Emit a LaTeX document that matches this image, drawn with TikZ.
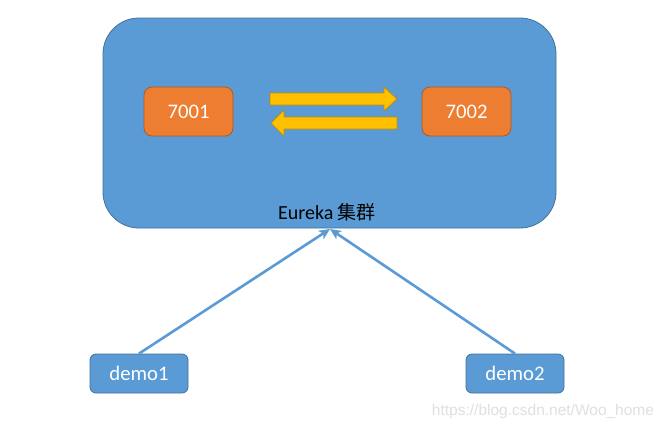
\documentclass[tikz,border=0pt]{standalone}
\usepackage{fontspec}
\setmainfont{Carlito}
\newfontfamily\cjkfont{Noto Sans CJK SC}
\newfontfamily\wmfont{Liberation Sans}
\usetikzlibrary{arrows.meta}
\definecolor{clusterblue}{HTML}{5B9BD5}
\definecolor{clusterborder}{HTML}{41719C}
\definecolor{nodeorange}{HTML}{ED7D31}
\definecolor{orangeborder}{HTML}{AE5A21}
\definecolor{arrowyellow}{HTML}{FFC000}
\definecolor{yellowborder}{HTML}{BC8C00}
\tikzset{
  cluster/.style={draw=clusterborder, fill=clusterblue, rounded corners=36pt, line width=0.8pt},
  orangebox/.style={draw=orangeborder, fill=nodeorange, rounded corners=8pt, minimum width=89pt, minimum height=49pt, text=white, font=\fontsize{20.7}{24}\selectfont, inner sep=0pt, line width=0.8pt},
  demobox/.style={draw=clusterborder, fill=clusterblue, rounded corners=6pt, minimum width=98pt, minimum height=39pt, text=white, font=\fontsize{20.7}{24}\selectfont, inner sep=0pt, line width=0.8pt},
  fatarrow/.style={draw=yellowborder, fill=arrowyellow, line width=0.7pt, line join=miter},
  link/.style={draw=clusterblue, line width=2.6pt, -{Stealth[length=11pt, width=10pt, inset=3pt]}}
}
\begin{document}
\begin{tikzpicture}[x=1pt, y=-1pt]
\useasboundingbox (0,0) rectangle (666,429);
\fill[white] (0,0) rectangle (666,429);
\draw[cluster] (103,18) rectangle (556,228);
\node[orangebox] (n7001) at (188.5,111.5) {7001};
\node[orangebox] (n7002) at (466.5,111.5) {7002};
\draw[fatarrow] (270,93) -- (384,93) -- (384,87) -- (397,99) -- (384,111) -- (384,105) -- (270,105) -- cycle;
\draw[fatarrow] (397,117) -- (284,117) -- (284,110) -- (271,123) -- (284,136) -- (284,129) -- (397,129) -- cycle;
\node[font=\fontsize{20}{24}\selectfont, inner sep=0pt] (label) at (327,212) {Eureka {\cjkfont\fontsize{19}{24}\selectfont 集群}};
\coordinate (target) at (330,229);
\node[demobox] (demo1) at (139,373.5) {demo1};
\node[demobox] (demo2) at (515,373.5) {demo2};
\draw[link] (demo1.north) -- (target);
\draw[link] (demo2.north) -- (target);
\node[font=\wmfont\fontsize{15.5}{18}\selectfont, text=black!12, inner sep=0pt] (wm) at (543,411) {https://blog.csdn.net/Woo\_home};
\end{tikzpicture}
\end{document}
